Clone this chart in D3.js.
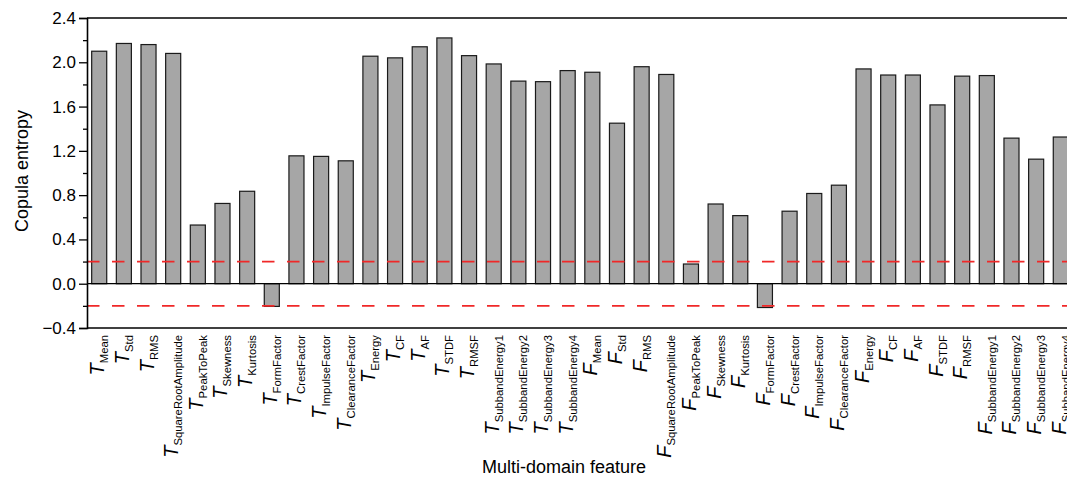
<!DOCTYPE html>
<html>
<head>
<meta charset="utf-8">
<script src="https://cdn.jsdelivr.net/npm/d3@7"></script>
<style>
  html, body { margin: 0; padding: 0; background: #fff; }
  svg { display: block; }
  text { font-family: "Liberation Sans", Arial, sans-serif; fill: #000; }
</style>
</head>
<body>
<svg id="chart" width="1067" height="478"></svg>
<script>
const categories = [
  "T_Mean","T_Std","T_RMS","T_SquareRootAmplitude","T_PeakToPeak","T_Skewness","T_Kurtosis",
  "T_FormFactor","T_CrestFactor","T_ImpulseFactor","T_ClearanceFactor","T_Energy","T_CF","T_AF",
  "T_STDF","T_RMSF","T_SubbandEnergy1","T_SubbandEnergy2","T_SubbandEnergy3","T_SubbandEnergy4",
  "F_Mean","F_Std","F_RMS","F_SquareRootAmplitude","F_PeakToPeak","F_Skewness","F_Kurtosis",
  "F_FormFactor","F_CrestFactor","F_ImpulseFactor","F_ClearanceFactor","F_Energy","F_CF","F_AF",
  "F_STDF","F_RMSF","F_SubbandEnergy1","F_SubbandEnergy2","F_SubbandEnergy3","F_SubbandEnergy4"
];
const entropyValues = [
  2.10, 2.17, 2.16, 2.08, 0.53, 0.725, 0.835,
  -0.205, 1.155, 1.15, 1.11, 2.055, 2.04, 2.14,
  2.22, 2.06, 1.985, 1.83, 1.825, 1.925,
  1.91, 1.45, 1.96, 1.89, 0.178, 0.72, 0.615,
  -0.215, 0.655, 0.815, 0.89, 1.94, 1.885, 1.885,
  1.615, 1.875, 1.88, 1.315, 1.125, 1.325
];
const yTicks = [-0.4, 0.0, 0.4, 0.8, 1.2, 1.6, 2.0, 2.4];
const yMinorTicks = [-0.2, 0.2, 0.6, 1.0, 1.4, 1.8, 2.2];
const thresholds = [0.2, -0.2];
const yTitle = "Copula entropy";
const xTitle = "Multi-domain feature";

(function () {
const svg = d3.select("#chart");
const mLeft = 87, mRight = 1073, mTop = 18, mBottom = 328;

const x = d3.scaleBand().domain(categories).range([mLeft, mRight])
  .paddingInner(0.39).paddingOuter(0.19);
const y = d3.scaleLinear().domain([-0.4, 2.4]).range([mBottom, mTop]);

// bars
svg.append("g").selectAll("rect").data(categories).join("rect")
  .attr("x", d => x(d))
  .attr("width", x.bandwidth())
  .attr("y", (d, i) => y(Math.max(0, entropyValues[i])))
  .attr("height", (d, i) => Math.abs(y(entropyValues[i]) - y(0)))
  .attr("fill", "#a6a6a6")
  .attr("stroke", "#1a1a1a")
  .attr("stroke-width", 1.2);

// zero line
svg.append("line")
  .attr("x1", mLeft).attr("x2", mRight)
  .attr("y1", y(0)).attr("y2", y(0))
  .attr("stroke", "#000").attr("stroke-width", 1.2);

// threshold dashed lines
svg.append("g").selectAll("line").data(thresholds).join("line")
  .attr("x1", mLeft).attr("x2", mRight)
  .attr("y1", d => y(d)).attr("y2", d => y(d))
  .attr("stroke", "#f02828").attr("stroke-width", 1.8)
  .attr("stroke-dasharray", "12.5,12.5");

// frame: top and bottom
svg.append("line").attr("x1", mLeft).attr("x2", mRight)
  .attr("y1", mTop).attr("y2", mTop).attr("stroke", "#000").attr("stroke-width", 1.6);
svg.append("line").attr("x1", mLeft).attr("x2", mRight)
  .attr("y1", mBottom).attr("y2", mBottom).attr("stroke", "#000").attr("stroke-width", 1.6);

// y axis
const yAxis = d3.axisLeft(y).tickValues(yTicks).tickFormat(d3.format(".1f"))
  .tickSize(8).tickPadding(3);
const gy = svg.append("g").attr("transform", `translate(${mLeft},0)`).call(yAxis);
gy.select(".domain").attr("stroke-width", 1.6);
gy.selectAll(".tick line").attr("stroke-width", 1.3);
gy.selectAll("text").attr("font-size", 17).attr("font-family", "Liberation Sans, Arial, sans-serif").attr("fill", "#000");

const yMinor = d3.axisLeft(y).tickValues(yMinorTicks).tickFormat("").tickSize(4);
const gym = svg.append("g").attr("transform", `translate(${mLeft},0)`).call(yMinor);
gym.select(".domain").remove();
gym.selectAll(".tick line").attr("stroke-width", 1.3);

// x labels
const labels = svg.append("g").selectAll("text").data(categories).join("text")
  .attr("transform", d => `translate(${x(d) + x.bandwidth() / 2},335) rotate(-90)`)
  .attr("text-anchor", "end")
  .attr("dy", 5);
labels.append("tspan")
  .attr("font-style", "italic").attr("font-size", 20)
  .text(d => d.split("_")[0]);
labels.append("tspan")
  .attr("font-size", 11.3).attr("dy", 4)
  .text(d => d.split("_")[1]);

// titles
svg.append("text")
  .attr("transform", "translate(28,171) rotate(-90)")
  .attr("text-anchor", "middle")
  .attr("font-size", 18)
  .text(yTitle);
svg.append("text")
  .attr("x", 564).attr("y", 473)
  .attr("text-anchor", "middle")
  .attr("font-size", 18)
  .text(xTitle);
})();
</script>
</body>
</html>
